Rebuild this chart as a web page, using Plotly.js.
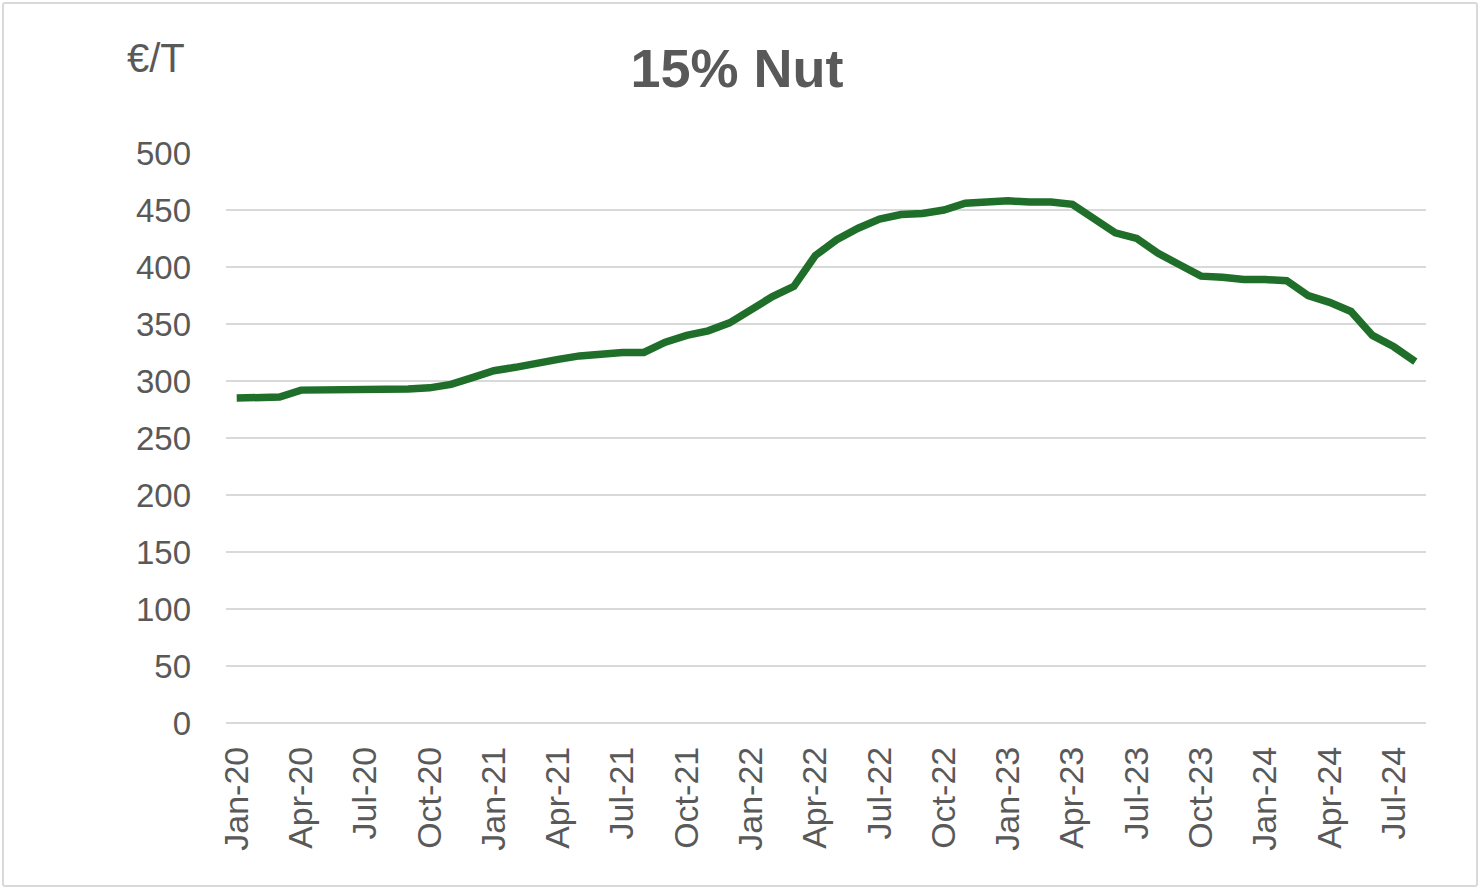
<!DOCTYPE html>
<html>
<head>
<meta charset="utf-8">
<script src="https://cdn.plot.ly/plotly-3.0.1.min.js"></script>
<style>
  html, body { margin: 0; padding: 0; background: #fff; }
  #frame {
    position: absolute; left: 2px; top: 2px;
    width: 1472px; height: 881px;
    border: 2px solid #d9d9d9; border-radius: 3px;
  }
  #chart { position: absolute; left: 0; top: 0; width: 1480px; height: 889px; }
</style>
</head>
<body>
<div id="frame"></div>
<div id="chart"></div>
<script>
// monthly prices, Jan-20 .. Aug-24
const months = [
  'Jan-20','Feb-20','Mar-20','Apr-20','May-20','Jun-20','Jul-20','Aug-20','Sep-20','Oct-20','Nov-20','Dec-20',
  'Jan-21','Feb-21','Mar-21','Apr-21','May-21','Jun-21','Jul-21','Aug-21','Sep-21','Oct-21','Nov-21','Dec-21',
  'Jan-22','Feb-22','Mar-22','Apr-22','May-22','Jun-22','Jul-22','Aug-22','Sep-22','Oct-22','Nov-22','Dec-22',
  'Jan-23','Feb-23','Mar-23','Apr-23','May-23','Jun-23','Jul-23','Aug-23','Sep-23','Oct-23','Nov-23','Dec-23',
  'Jan-24','Feb-24','Mar-24','Apr-24','May-24','Jun-24','Jul-24','Aug-24'
];
const nutPrice = [
  285, 285, 286, 292, 292, 293, 293, 293, 293, 294, 297, 303,
  309, 312, 316, 319, 322, 324, 325, 325, 334, 340, 344, 351,
  362, 374, 383, 410, 424, 434, 442, 446, 447, 450, 456, 457,
  458, 457, 457, 455, 443, 430, 425, 412, 402, 392, 391, 389,
  389, 388, 375, 369, 361, 340, 330, 317
];
const tickLabels = ['Jan-20','Apr-20','Jul-20','Oct-20','Jan-21','Apr-21','Jul-21','Oct-21',
  'Jan-22','Apr-22','Jul-22','Oct-22','Jan-23','Apr-23','Jul-23','Oct-23','Jan-24','Apr-24','Jul-24'];

const grey = '#595959';

const trace = {
  x: months,
  y: nutPrice,
  type: 'scatter',
  mode: 'lines',
  line: { color: '#1f6e2a', width: 7.5 },
  hoverinfo: 'x+y'
};

const layout = {
  width: 1480,
  height: 889,
  paper_bgcolor: 'rgba(0,0,0,0)',
  plot_bgcolor: 'rgba(0,0,0,0)',
  margin: { l: 226, r: 54, t: 153, b: 166 },
  font: { family: 'Liberation Sans, Arial, sans-serif', color: grey },
  title: {
    text: '<b>15% Nut</b>',
    font: { size: 54, color: grey },
    x: 0.498, xref: 'container', xanchor: 'center',
    y: 0.923, yref: 'container', yanchor: 'middle'
  },
  showlegend: false,
  xaxis: {
    type: 'category',
    range: [-0.5, 55.5],
    tickmode: 'array',
    tickvals: tickLabels,
    ticktext: tickLabels,
    tickangle: -90,
    tickfont: { size: 34, color: grey },
    showgrid: false,
    showline: false,
    zeroline: false,
    ticks: '',
    ticklabelstandoff: 16
  },
  yaxis: {
    range: [0, 500],
    dtick: 50,
    tickfont: { size: 33, color: grey },
    gridcolor: '#d9d9d9',
    gridwidth: 2,
    zeroline: true,
    zerolinecolor: '#d9d9d9',
    zerolinewidth: 2,
    showline: false,
    ticks: '',
    ticklabelstandoff: 34
  },
  annotations: [{
    text: '€/T',
    xref: 'paper', yref: 'paper',
    x: -0.058, y: 1.167,
    xanchor: 'center', yanchor: 'middle',
    showarrow: false,
    font: { size: 40, color: grey }
  }]
};

Plotly.newPlot('chart', [trace], layout, { displayModeBar: false, staticPlot: true });
</script>
</body>
</html>
